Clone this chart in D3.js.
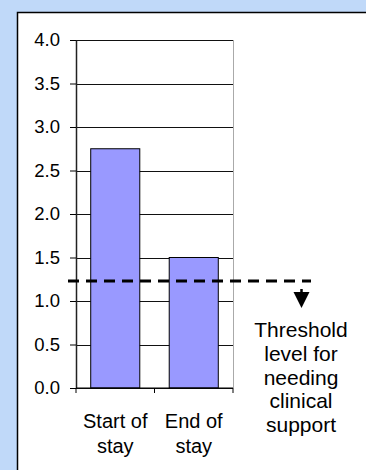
<!DOCTYPE html>
<html>
<head>
<meta charset="utf-8">
<script src="https://cdn.jsdelivr.net/npm/d3@7"></script>
<style>
  html, body { margin: 0; padding: 0; background: #c0d9f9; }
  svg { display: block; font-family: Arial, "Liberation Sans", sans-serif; }
</style>
</head>
<body>
<div id="chart"></div>
<script>
// chart data
var categories = [["Start of", "stay"], ["End of", "stay"]];
var values = [2.75, 1.5];
var tickLabels = [0, 0.5, 1.0, 1.5, 2.0, 2.5, 3.0, 3.5, 4.0];
var threshold = 1.23;
var thresholdText = ["Threshold", "level for", "needing", "clinical", "support"];

var w = 366;
var h = 470;

var svg = d3.select("#chart")
    .append("svg")
    .attr("width", w)
    .attr("height", h);

// white panel with black frame, runs off the right and bottom edges
svg.append("rect")
    .attr("x", 17.5)
    .attr("y", 12.5)
    .attr("width", 400)
    .attr("height", 500)
    .attr("fill", "#fff")
    .attr("stroke", "#000")
    .attr("stroke-width", 1.5);

// plot area
var plotLeft = 76, plotRight = 233, plotTop = 40, plotBottom = 388;

var y = d3.scaleLinear()
    .domain([0, 4])
    .range([plotBottom, plotTop]);

var x = d3.scaleBand()
    .domain(d3.range(categories.length))
    .range([plotLeft, plotRight])
    .paddingInner(0.375)
    .paddingOuter(0.1875);

// gridlines
svg.append("g")
    .attr("transform", "translate(" + plotLeft + ",0)")
    .call(d3.axisLeft(y).tickValues(tickLabels).tickSize(-(plotRight - plotLeft)).tickFormat(""))
    .call(function(g) {
        g.select(".domain").remove();
        g.selectAll("line").attr("stroke", "#111").attr("shape-rendering", "crispEdges");
    });

// right border of plot
svg.append("line")
    .attr("x1", plotRight + 0.5).attr("x2", plotRight + 0.5)
    .attr("y1", plotTop).attr("y2", plotBottom)
    .attr("stroke", "#aaa");

// bars
svg.selectAll("rect.bar")
    .data(values)
    .enter()
    .append("rect")
    .attr("class", "bar")
    .attr("x", function(d, i) { return x(i); })
    .attr("y", function(d) { return y(d); })
    .attr("width", x.bandwidth())
    .attr("height", function(d) { return y(0) - y(d); })
    .attr("fill", "#9999ff")
    .attr("stroke", "#000")
    .attr("stroke-width", 1);

// y axis with labels
svg.append("g")
    .attr("transform", "translate(" + plotLeft + ",0)")
    .call(d3.axisLeft(y).tickValues(tickLabels).tickSize(6).tickSizeOuter(0).tickPadding(10).tickFormat(d3.format(".1f")))
    .call(function(g) {
        g.select(".domain").attr("stroke", "#222").attr("stroke-width", 1.5);
        g.selectAll("line").attr("stroke", "#000");
        g.selectAll("text").attr("font-size", 18.5).attr("fill", "#000")
            .attr("font-family", "Arial, 'Liberation Sans', sans-serif");
    });

// x axis line and tick marks at band boundaries
svg.append("line")
    .attr("x1", plotLeft).attr("x2", plotRight)
    .attr("y1", y(0)).attr("y2", y(0))
    .attr("stroke", "#000");

var edges = d3.range(categories.length + 1).map(function(i) { return plotLeft + i * x.step(); });
svg.selectAll("line.xtick")
    .data(edges)
    .enter()
    .append("line")
    .attr("class", "xtick")
    .attr("x1", function(d) { return d; })
    .attr("x2", function(d) { return d; })
    .attr("y1", y(0))
    .attr("y2", y(0) + 5)
    .attr("stroke", "#000");

// category labels
var catText = svg.selectAll("text.cat")
    .data(categories)
    .enter()
    .append("text")
    .attr("class", "cat")
    .attr("text-anchor", "middle")
    .attr("font-size", 20)
    .attr("fill", "#000");

catText.selectAll("tspan")
    .data(function(d, i) { return d.map(function(s) { return { s: s, i: i }; }); })
    .enter()
    .append("tspan")
    .attr("x", function(d) { return x(d.i) + x.bandwidth() / 2; })
    .attr("y", function(d, j) { return 427.5 + j * 25.5; })
    .text(function(d) { return d.s; });

// threshold dashed line
svg.append("line")
    .attr("x1", 68).attr("x2", 311)
    .attr("y1", y(threshold)).attr("y2", y(threshold))
    .attr("stroke", "#000")
    .attr("stroke-width", 3)
    .attr("stroke-dasharray", "11,7");

// downward arrow
var ax = 301.5;
svg.append("line")
    .attr("x1", ax).attr("x2", ax)
    .attr("y1", y(threshold) + 8).attr("y2", y(threshold) + 13)
    .attr("stroke", "#000")
    .attr("stroke-width", 2.5);
svg.append("path")
    .attr("d", "M" + (ax - 8) + "," + (y(threshold) + 11) + "L" + (ax + 8) + "," + (y(threshold) + 11) + "L" + ax + "," + (y(threshold) + 27) + "Z")
    .attr("fill", "#000");

// threshold caption
svg.append("text")
    .attr("text-anchor", "middle")
    .attr("font-size", 21)
    .attr("fill", "#000")
    .selectAll("tspan")
    .data(thresholdText)
    .enter()
    .append("tspan")
    .attr("x", 301)
    .attr("y", function(d, i) { return 337 + i * 23.8; })
    .text(function(d) { return d; });
</script>
</body>
</html>
